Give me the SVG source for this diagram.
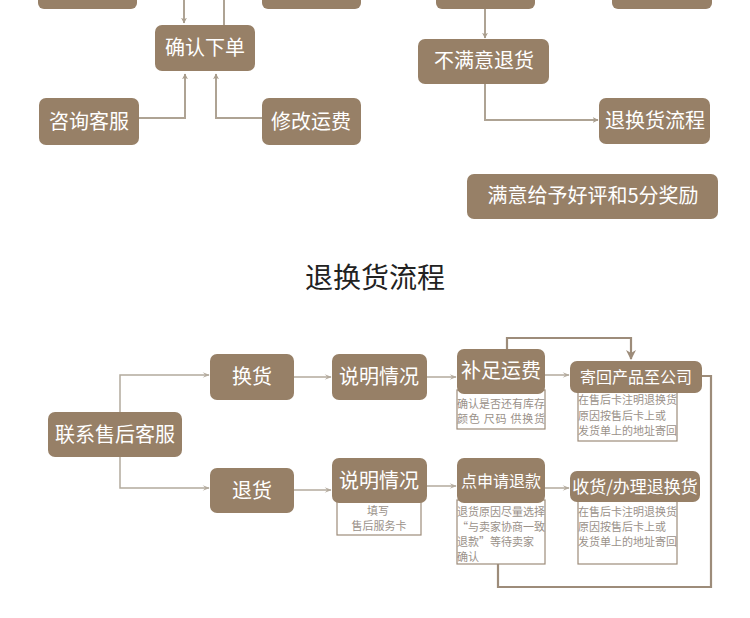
<svg xmlns="http://www.w3.org/2000/svg" width="750" height="618" viewBox="0 0 750 618">
<style>
.box{fill:#978067;}
.t{font-family:"Noto Sans CJK SC","Noto Sans",sans-serif;fill:#fff;text-anchor:middle;}
.sub{fill:#fff;stroke:#9d8c7a;stroke-width:1.2;}
.st{font-family:"Noto Sans CJK SC","Noto Sans",sans-serif;fill:#9a9189;font-size:11px;}
.ln{fill:none;stroke:#aea394;stroke-width:2;}
.ln2{fill:none;stroke:#b3aa9d;stroke-width:1.5;}
.ln3{fill:none;stroke:#9d8c7a;stroke-width:2.2;}
</style>
<defs>
<marker id="a1" viewBox="0 0 10 10" refX="9" refY="5" markerWidth="6" markerHeight="6" orient="auto" markerUnits="userSpaceOnUse">
<path d="M0,0 L10,5 L0,10 L3,5 Z" fill="#a89c8c"/>
</marker>
<marker id="a2" viewBox="0 0 10 10" refX="9" refY="5" markerWidth="9" markerHeight="7" orient="auto" markerUnits="userSpaceOnUse">
<path d="M0,1 L10,5 L0,9 L4,5 Z" fill="#b3aa9d"/>
</marker>
<marker id="a3" viewBox="0 0 10 10" refX="9" refY="5" markerWidth="10" markerHeight="10" orient="auto" markerUnits="userSpaceOnUse">
<path d="M0,0 L10,5 L0,10 L3,5 Z" fill="#9d8c7a"/>
</marker>
</defs>

<g id="connectors">
<path class="ln" d="M184,0 V23" marker-end="url(#a1)"/>
<path class="ln" d="M224,0 V25"/>
<path class="ln" d="M139,118 H185 V74" marker-end="url(#a1)"/>
<path class="ln" d="M262,118 H216 V74" marker-end="url(#a1)"/>
<path class="ln" d="M485,9 V38" marker-end="url(#a1)"/>
<path class="ln" d="M485,84 V120 H598" marker-end="url(#a1)"/>

<path class="ln2" d="M120,412 V375 H209" marker-end="url(#a2)"/>
<path class="ln2" d="M120,457 V488 H209" marker-end="url(#a2)"/>
<path class="ln2" d="M294,377 H331" marker-end="url(#a2)"/>
<path class="ln2" d="M294,490 H331" marker-end="url(#a2)"/>
<path class="ln2" d="M427,377 H456" marker-end="url(#a2)"/>
<path class="ln2" d="M427,486 H456" marker-end="url(#a2)"/>
<path class="ln2" d="M545,375 H569" marker-end="url(#a2)"/>
<path class="ln2" d="M545,488 H569" marker-end="url(#a2)"/>
<path class="ln3" d="M507,349 V338 H631 V359" marker-end="url(#a3)"/>
<path class="ln3" d="M702,376 H711 V587 H498 V564"/>
</g>

<g id="top-left-a"><rect class="box" x="38" y="-20" width="99" height="29" rx="6"/></g>
<g id="top-left-b"><rect class="box" x="262" y="-20" width="99" height="29" rx="6"/></g>
<g id="top-right-a"><rect class="box" x="436" y="-20" width="99" height="29" rx="6"/></g>
<g id="top-right-b"><rect class="box" x="612" y="-20" width="100" height="29" rx="6"/></g>

<g id="confirm"><rect class="box" x="155" y="25" width="100" height="46" rx="7"/><text class="t" x="205" y="55" font-size="20">确认下单</text></g>
<g id="consult"><rect class="box" x="39" y="98" width="100" height="47" rx="7"/><text class="t" x="89" y="129" font-size="20">咨询客服</text></g>
<g id="modify"><rect class="box" x="262" y="98" width="99" height="47" rx="7"/><text class="t" x="311" y="129" font-size="20">修改运费</text></g>
<g id="unsatisfied"><rect class="box" x="418" y="39" width="131" height="45" rx="7"/><text class="t" x="484" y="68" font-size="20">不满意退货</text></g>
<g id="returnflow"><rect class="box" x="599" y="98" width="111" height="46" rx="7"/><text class="t" x="655" y="128" font-size="20">退换货流程</text></g>
<g id="satisfied"><rect class="box" x="467" y="174" width="251" height="45" rx="7"/><text class="t" x="593" y="203" font-size="20">满意给予好评和5分奖励</text></g>

<g id="title"><text x="375" y="288" font-family="'Noto Sans CJK SC','Noto Sans',sans-serif" font-size="28" fill="#222" text-anchor="middle">退换货流程</text></g>

<g id="contact"><rect class="box" x="48" y="412" width="134" height="45" rx="7"/><text class="t" x="115" y="442" font-size="20">联系售后客服</text></g>
<g id="exchange"><rect class="box" x="210" y="354" width="84" height="46" rx="7"/><text class="t" x="252" y="384" font-size="20">换货</text></g>
<g id="return"><rect class="box" x="210" y="468" width="84" height="45" rx="7"/><text class="t" x="252" y="498" font-size="20">退货</text></g>
<g id="explain1"><rect class="box" x="332" y="354" width="95" height="46" rx="7"/><text class="t" x="379" y="384" font-size="20">说明情况</text></g>
<g id="explain2">
<rect class="sub" x="337" y="500" width="84" height="35"/>
<rect class="box" x="332" y="458" width="95" height="45" rx="7"/><text class="t" x="379" y="488" font-size="20">说明情况</text>
<text class="st" x="378" y="515" text-anchor="middle">填写</text>
<text class="st" x="379" y="530" text-anchor="middle">售后服务卡</text>
</g>
<g id="topup">
<rect class="sub" x="457" y="390" width="88" height="39"/>
<rect class="box" x="457" y="349" width="88" height="45" rx="7"/><text class="t" x="501" y="378" font-size="20">补足运费</text>
<text class="st" x="457" y="408" textLength="88" lengthAdjust="spacing">确认是否还有库存</text>
<text class="st" x="457" y="423" textLength="88" lengthAdjust="spacing">颜色 尺码 供换货</text>
</g>
<g id="sendback">
<rect class="sub" x="578" y="390" width="99" height="51"/>
<rect class="box" x="570" y="361" width="132" height="32" rx="7"/><text class="t" x="636" y="383" font-size="16">寄回产品至公司</text>
<text class="st" x="578" y="404" textLength="99" lengthAdjust="spacing">在售后卡注明退换货</text>
<text class="st" x="578" y="420">原因按售后卡上或</text>
<text class="st" x="578" y="435" textLength="99" lengthAdjust="spacing">发货单上的地址寄回</text>
</g>
<g id="refund">
<rect class="sub" x="457" y="500" width="88" height="64"/>
<rect class="box" x="457" y="458" width="88" height="45" rx="7"/><text class="t" x="501" y="487" font-size="16">点申请退款</text>
<text class="st" x="457" y="516" textLength="88" lengthAdjust="spacing">退货原因尽量选择</text>
<text class="st" x="457" y="531" textLength="88" lengthAdjust="spacing">“与卖家协商一致</text>
<text class="st" x="457" y="546">退款”等待卖家</text>
<text class="st" x="457" y="561">确认</text>
</g>
<g id="receive">
<rect class="sub" x="578" y="499" width="99" height="65"/>
<rect class="box" x="570" y="471" width="130" height="31" rx="7"/><text class="t" x="635" y="493" font-size="17">收货/办理退换货</text>
<text class="st" x="578" y="516" textLength="99" lengthAdjust="spacing">在售后卡注明退换货</text>
<text class="st" x="578" y="531">原因按售后卡上或</text>
<text class="st" x="578" y="546" textLength="99" lengthAdjust="spacing">发货单上的地址寄回</text>
</g>
</svg>
